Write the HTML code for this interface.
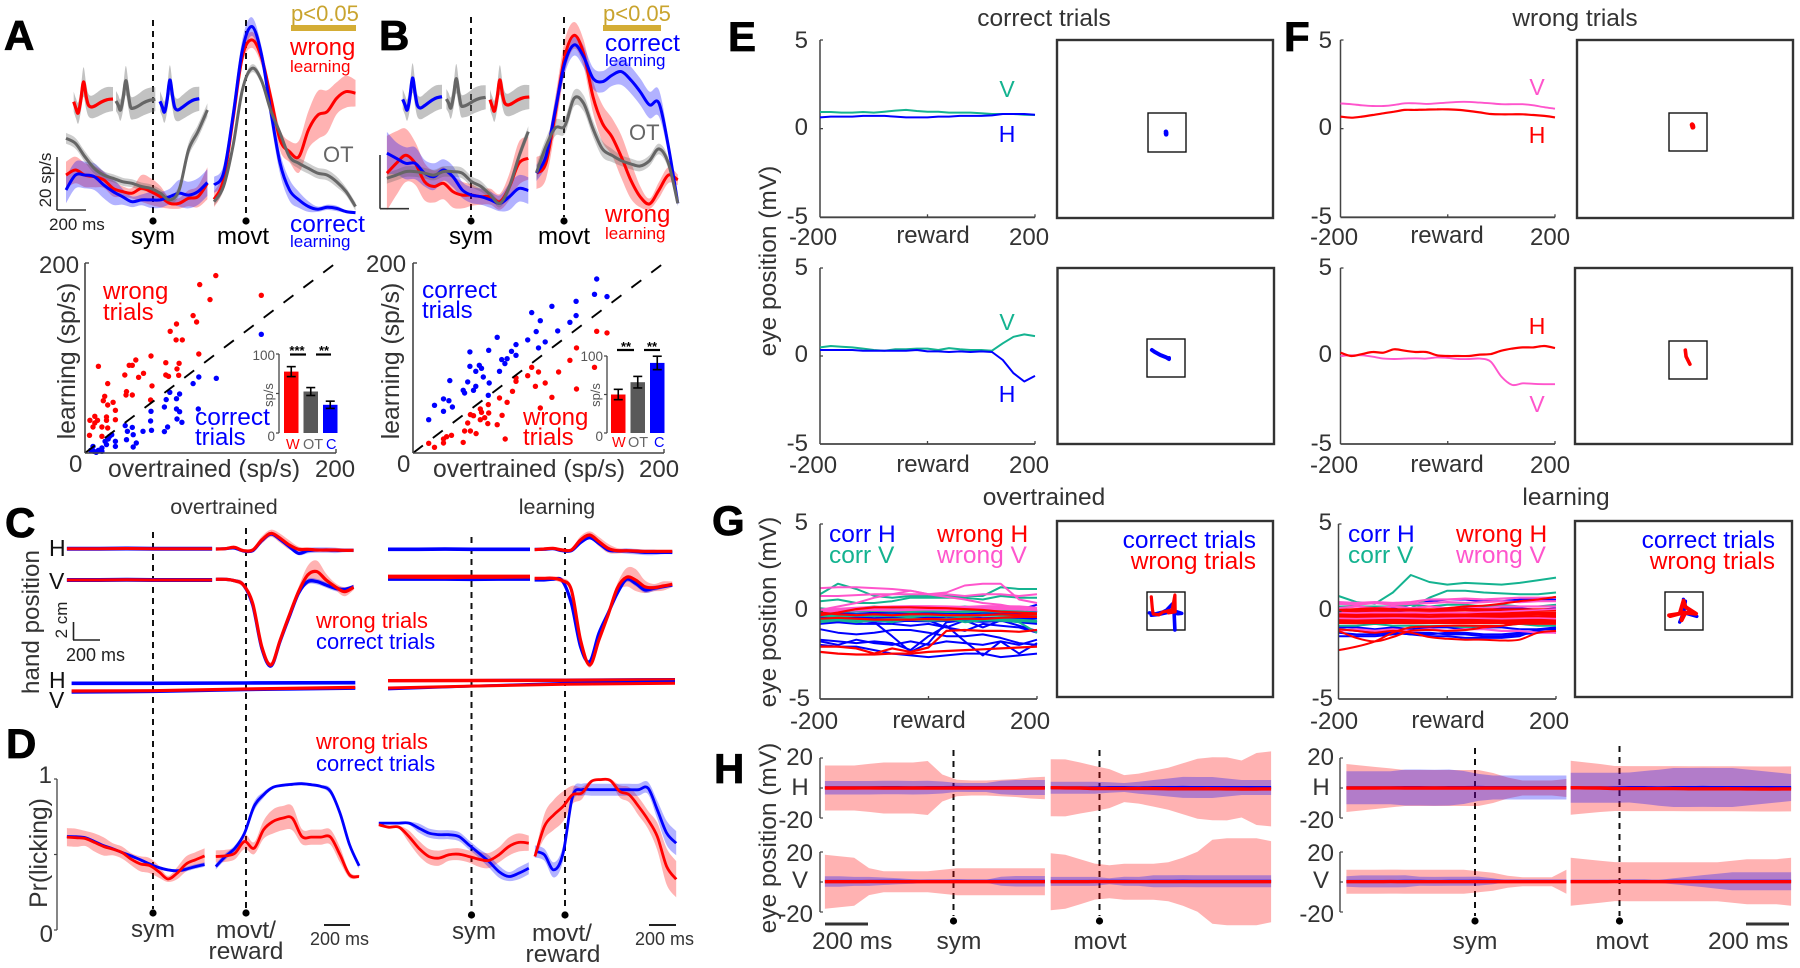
<!DOCTYPE html>
<html lang="en">
<head>
<meta charset="utf-8">
<title>Neural activity, hand and eye position during learning</title>
<style>
html,body{margin:0;padding:0;background:#fff;}
svg{display:block;font-family:"Liberation Sans",sans-serif;}
</style>
</head>
<body>
<svg id="figure" xmlns="http://www.w3.org/2000/svg" width="1800" height="968" viewBox="0 0 1800 968">
<rect x="0" y="0" width="1800" height="968" fill="#fff"/>
<g id="marks"></g>
<g id="labels">
<g font-weight="bold" font-size="42" fill="#000" stroke="#000" stroke-width=".8">
<text x="4" y="50">A</text>
<text x="379" y="50">B</text>
<text x="5" y="537">C</text>
<text x="6" y="758">D</text>
<text x="728" y="51">E</text>
<text x="1284" y="51">F</text>
<text x="712" y="535">G</text>
<text x="714" y="783">H</text>
</g>
<!-- Panel A labels -->
<text x="291" y="21" font-size="22" fill="#c9a42e">p&lt;0.05</text>
<text x="290" y="55" font-size="24" fill="#f00">wrong</text>
<text x="290" y="72" font-size="17" fill="#f00">learning</text>
<text x="323" y="162" font-size="22" fill="#666">OT</text>
<text x="290" y="232" font-size="24.5" fill="#00f">correct</text>
<text x="290" y="247" font-size="17" fill="#00f">learning</text>
<text x="153" y="244" font-size="24" text-anchor="middle">sym</text>
<text x="217" y="244" font-size="24">movt</text>
<text x="49" y="230" font-size="17" fill="#222">200 ms</text>
<text transform="translate(51,180) rotate(-90)" font-size="17" fill="#222" text-anchor="middle">20 sp/s</text>
<text x="39" y="273" font-size="24" fill="#333">200</text>
<text x="69" y="472" font-size="24" fill="#333">0</text>
<text x="315" y="477" font-size="24" fill="#333">200</text>
<text x="108" y="477" font-size="24.7" fill="#333">overtrained (sp/s)</text>
<text transform="translate(75,361) rotate(-90)" font-size="24.7" fill="#333" text-anchor="middle">learning (sp/s)</text>
<text x="103" y="299" font-size="24" fill="#f00">wrong</text>
<text x="103" y="320" font-size="24" fill="#f00">trials</text>
<text x="195" y="425" font-size="24.5" fill="#00f">correct</text>
<text x="195" y="445" font-size="24" fill="#00f">trials</text>
<text x="275" y="360" font-size="13.5" fill="#555" text-anchor="end">100</text>
<text x="275" y="441" font-size="13.5" fill="#555" text-anchor="end">0</text>
<text transform="translate(273,395) rotate(-90)" font-size="13" fill="#555" text-anchor="middle">sp/s</text>
<text x="286" y="449" font-size="14.5" fill="#f00">W</text>
<text x="303" y="449" font-size="14.5" fill="#666">OT</text>
<text x="326" y="449" font-size="14.5" fill="#00f">C</text>
<text x="297" y="355" font-size="13" font-weight="bold" text-anchor="middle">***</text>
<text x="324" y="355" font-size="13" font-weight="bold" text-anchor="middle">**</text>
<!-- Panel B labels -->
<text x="603" y="21" font-size="22" fill="#c9a42e">p&lt;0.05</text>
<text x="605" y="51" font-size="24.5" fill="#00f">correct</text>
<text x="605" y="66" font-size="17" fill="#00f">learning</text>
<text x="629" y="140" font-size="22" fill="#666">OT</text>
<text x="605" y="222" font-size="24" fill="#f00">wrong</text>
<text x="605" y="239" font-size="17" fill="#f00">learning</text>
<text x="471" y="244" font-size="24" text-anchor="middle">sym</text>
<text x="538" y="244" font-size="24">movt</text>
<text x="366" y="272" font-size="24" fill="#333">200</text>
<text x="397" y="472" font-size="24" fill="#333">0</text>
<text x="639" y="477" font-size="24" fill="#333">200</text>
<text x="433" y="477" font-size="24.7" fill="#333">overtrained (sp/s)</text>
<text transform="translate(399,361) rotate(-90)" font-size="24.7" fill="#333" text-anchor="middle">learning (sp/s)</text>
<text x="422" y="298" font-size="24.5" fill="#00f">correct</text>
<text x="422" y="318" font-size="24" fill="#00f">trials</text>
<text x="523" y="425" font-size="24" fill="#f00">wrong</text>
<text x="523" y="445" font-size="24" fill="#f00">trials</text>
<text x="603" y="361" font-size="13.5" fill="#555" text-anchor="end">100</text>
<text x="603" y="441" font-size="13.5" fill="#555" text-anchor="end">0</text>
<text transform="translate(600,395) rotate(-90)" font-size="13" fill="#555" text-anchor="middle">sp/s</text>
<text x="612" y="447" font-size="14.5" fill="#f00">W</text>
<text x="628" y="447" font-size="14.5" fill="#666">OT</text>
<text x="654" y="447" font-size="14.5" fill="#00f">C</text>
<text x="626" y="351" font-size="13" font-weight="bold" text-anchor="middle">**</text>
<text x="652" y="351" font-size="13" font-weight="bold" text-anchor="middle">**</text>
<!-- Panel C labels -->
<text x="224" y="514" font-size="21.5" fill="#333" text-anchor="middle">overtrained</text>
<text x="557" y="514" font-size="21.5" fill="#333" text-anchor="middle">learning</text>
<text x="49" y="556" font-size="23" fill="#111">H</text>
<text x="49" y="589" font-size="23" fill="#111">V</text>
<text x="49" y="688" font-size="23" fill="#111">H</text>
<text x="49" y="708" font-size="23" fill="#111">V</text>
<text transform="translate(39,622) rotate(-90)" font-size="24.2" fill="#333" text-anchor="middle">hand position</text>
<text transform="translate(67,620) rotate(-90)" font-size="17" fill="#222" text-anchor="middle">2 cm</text>
<text x="66" y="661" font-size="18" fill="#222">200 ms</text>
<text x="316" y="628" font-size="21.9" fill="#f00">wrong trials</text>
<text x="316" y="649" font-size="21.9" fill="#00f">correct trials</text>
<!-- Panel D labels -->
<text x="316" y="749" font-size="21.9" fill="#f00">wrong trials</text>
<text x="316" y="771" font-size="21.9" fill="#00f">correct trials</text>
<text x="52" y="783" font-size="24" fill="#333" text-anchor="end">1</text>
<text x="53" y="942" font-size="24" fill="#333" text-anchor="end">0</text>
<text transform="translate(47,853) rotate(-90)" font-size="24.7" fill="#333" text-anchor="middle">Pr(licking)</text>
<text x="153" y="937" font-size="24" fill="#333" text-anchor="middle">sym</text>
<text x="246" y="938" font-size="24.5" fill="#333" text-anchor="middle">movt/</text>
<text x="246" y="959" font-size="24.5" fill="#333" text-anchor="middle">reward</text>
<text x="474" y="939" font-size="24" fill="#333" text-anchor="middle">sym</text>
<text x="562" y="941" font-size="24.5" fill="#333" text-anchor="middle">movt/</text>
<text x="563" y="962" font-size="24.5" fill="#333" text-anchor="middle">reward</text>
<text x="310" y="945" font-size="18" fill="#333">200 ms</text>
<text x="635" y="945" font-size="18" fill="#333">200 ms</text>
<!-- Panels E F labels -->
<text x="1044" y="26" font-size="24.5" fill="#333" text-anchor="middle">correct trials</text>
<text x="1575" y="26" font-size="24.5" fill="#333" text-anchor="middle">wrong trials</text>
<text transform="translate(776,261) rotate(-90)" font-size="24.5" fill="#333" text-anchor="middle">eye position (mV)</text>
<text transform="translate(776,612) rotate(-90)" font-size="24.5" fill="#333" text-anchor="middle">eye position (mV)</text>
<text transform="translate(776,838) rotate(-90)" font-size="24.5" fill="#333" text-anchor="middle">eye position (mV)</text>
<g font-size="24" fill="#333">
<text x="808" y="48" text-anchor="end">5</text>
<text x="808" y="135" text-anchor="end">0</text>
<text x="808" y="224" text-anchor="end">-5</text>
<text x="789" y="245">-200</text>
<text x="933" y="243" text-anchor="middle">reward</text>
<text x="1009" y="245">200</text>
<text x="808" y="275" text-anchor="end">5</text>
<text x="808" y="362" text-anchor="end">0</text>
<text x="808" y="451" text-anchor="end">-5</text>
<text x="789" y="473">-200</text>
<text x="933" y="472" text-anchor="middle">reward</text>
<text x="1009" y="473">200</text>
<text x="1332" y="48" text-anchor="end">5</text>
<text x="1332" y="135" text-anchor="end">0</text>
<text x="1332" y="224" text-anchor="end">-5</text>
<text x="1310" y="245">-200</text>
<text x="1447" y="243" text-anchor="middle">reward</text>
<text x="1530" y="245">200</text>
<text x="1332" y="275" text-anchor="end">5</text>
<text x="1332" y="362" text-anchor="end">0</text>
<text x="1332" y="451" text-anchor="end">-5</text>
<text x="1310" y="473">-200</text>
<text x="1447" y="472" text-anchor="middle">reward</text>
<text x="1530" y="473">200</text>
<!-- G -->
<text x="808" y="530" text-anchor="end">5</text>
<text x="808" y="617" text-anchor="end">0</text>
<text x="810" y="706" text-anchor="end">-5</text>
<text x="790" y="729">-200</text>
<text x="929" y="728" text-anchor="middle">reward</text>
<text x="1010" y="729">200</text>
<text x="1332" y="530" text-anchor="end">5</text>
<text x="1332" y="617" text-anchor="end">0</text>
<text x="1333" y="706" text-anchor="end">-5</text>
<text x="1310" y="729">-200</text>
<text x="1448" y="728" text-anchor="middle">reward</text>
<text x="1529" y="729">200</text>
<!-- H -->
<text x="813" y="765" text-anchor="end">20</text>
<text x="800" y="795" text-anchor="middle">H</text>
<text x="813" y="828" text-anchor="end">-20</text>
<text x="813" y="861" text-anchor="end">20</text>
<text x="800" y="888" text-anchor="middle">V</text>
<text x="813" y="922" text-anchor="end">-20</text>
<text x="1334" y="765" text-anchor="end">20</text>
<text x="1321" y="795" text-anchor="middle">H</text>
<text x="1334" y="828" text-anchor="end">-20</text>
<text x="1334" y="861" text-anchor="end">20</text>
<text x="1321" y="888" text-anchor="middle">V</text>
<text x="1334" y="922" text-anchor="end">-20</text>
</g>
<g font-size="23">
<text x="1007" y="97" fill="#14b390" text-anchor="middle">V</text>
<text x="1007" y="142" fill="#00f" text-anchor="middle">H</text>
<text x="1007" y="330" fill="#14b390" text-anchor="middle">V</text>
<text x="1007" y="402" fill="#00f" text-anchor="middle">H</text>
<text x="1537" y="95" fill="#ff55cc" text-anchor="middle">V</text>
<text x="1537" y="143" fill="#f00" text-anchor="middle">H</text>
<text x="1537" y="334" fill="#f00" text-anchor="middle">H</text>
<text x="1537" y="412" fill="#ff55cc" text-anchor="middle">V</text>
</g>
<g font-size="24.5">
<text x="829" y="542" fill="#00f">corr H</text>
<text x="829" y="563" fill="#14b390">corr V</text>
<text x="937" y="542" fill="#f00">wrong H</text>
<text x="937" y="563" fill="#ff55cc">wrong V</text>
<text x="1256" y="548" fill="#00f" text-anchor="end">correct trials</text>
<text x="1256" y="569" fill="#f00" text-anchor="end">wrong trials</text>
<text x="1348" y="542" fill="#00f">corr H</text>
<text x="1348" y="563" fill="#14b390">corr V</text>
<text x="1456" y="542" fill="#f00">wrong H</text>
<text x="1456" y="563" fill="#ff55cc">wrong V</text>
<text x="1775" y="548" fill="#00f" text-anchor="end">correct trials</text>
<text x="1775" y="569" fill="#f00" text-anchor="end">wrong trials</text>
<text x="1044" y="505" fill="#333" text-anchor="middle">overtrained</text>
<text x="1566" y="505" fill="#333" text-anchor="middle">learning</text>
<text x="812" y="949" fill="#333">200 ms</text>
<text x="959" y="949" fill="#333" text-anchor="middle">sym</text>
<text x="1100" y="949" fill="#333" text-anchor="middle">movt</text>
<text x="1475" y="949" fill="#333" text-anchor="middle">sym</text>
<text x="1622" y="949" fill="#333" text-anchor="middle">movt</text>
<text x="1708" y="949" fill="#333">200 ms</text>
</g>
</g>
</svg>
<script>
/* ---------- PANEL A/B: firing rate (sp/s) ---------- */
const timeSymA=[-600,-535,-470,-405,-340,-275,-210,-145,-80,-15,50,115,180,245,310,375];
const timeMovtA=[-220,-155,-90,-25,40,105,170,235,300,365,430,495,560,625,690,755];
const timeSymB=[-580,-515,-450,-385,-320,-255,-190,-125,-60,5,70,135,200,265,330,395];
const timeMovtB=[-190,-125,-60,5,70,135,200,265,330,395,460,525,590,655,720,785];

const aSymGray=[26.9,25,20,15.6,13.1,11.9,10.6,10,8.8,8.1,6.3,3.8,7.5,22.5,29.4,37.5];
const aSymRed=[13.1,15,13.1,12.5,11.3,8.1,6.9,6.3,8.1,6.9,5,2.5,2.5,4.4,5,10];
const aSymBlue=[7.5,13.1,13.1,12.5,9.4,6.9,5,3.1,3.8,3.8,3.8,5,6.3,5.6,6.9,10.3];
const aSymGrayErr=[2,2,2,2,1.5,1.5,1.5,1.5,1.5,1.5,1.5,1.5,2,2.5,2.5,2.5];
const aSymRedErr=[5,5,4.5,4,3,3,2,2,5,5,4,2,2,3,4,6];
const aSymBlueErr=[5,5,5,5,5,5,3,2,2,3,3,3,5,5,5,5];
const aMovtBlue=[9.4,13.8,35,60,68.8,58.8,37.5,17.5,7.5,3.8,1.3,.3,1,.6,-.6,-1];
const aMovtRed=[4,11.3,33.8,57.5,63.8,57.5,42.5,26.3,21.9,20,30,35.6,36.9,41.9,44.4,43.8];
const aMovtGray=[3.1,8.8,23.8,45,53.1,48.8,37.5,28.8,20,17.5,15.6,13.8,13.1,10.6,6.9,1.3];
const aMovtBlueErr=[3,3,4,4,3.5,3,4,4,4,3,2,1,1,1,.5,.5];
const aMovtRedErr=[3,3,4,3,3,3,3,4,4,6,7,9,8,6,6,5];
const aMovtGrayErr=[1.5,1.5,1.5,1.5,1.5,1.5,1.5,1.5,1.5,2,2,2,2,2,1.5,1.5];

const bSymBlue=[20.8,18.9,17,17,13.3,12,14.5,12,7,5.1,4.5,3.3,2,4.5,7.6,6.8];
const bSymRed=[13.3,17,20,17,10.1,8.3,9.5,6.4,5.1,5.1,4.5,4.5,2.6,8.2,17,18.9];
const bSymGray=[11.4,12.6,13.9,13.9,13.3,12.6,13.9,13.9,13.3,10.1,8.3,5.1,2,8.3,19.5,28.9];
const bSymRedErr=[14,12,10,8,7,6,6,6,5,4,3,3,3,5,8,8];
const bSymBlueErr=[8,6,6,6,5,5,4,4,3,3,3,3,3,5,5,5];
const bSymGrayErr=[2,2,2,2,2,2,2,2,2,2,2,1.5,1.5,2,2,2];
const bMovtBlue=[13.3,19.5,37,54.5,61.4,57,48.9,47.6,50,51.4,48.3,43.9,38.9,39.5,23.3,2];
const bMovtRed=[13.3,17,35.8,57,65,58.3,42,32,27,19.5,10.8,4.5,1.8,7,12.6,10.8];
const bMovtGray=[13.5,23.3,30.3,31,41.4,39.5,30,22.4,20,18,16.8,16,18,22.4,17,2];
const bMovtBlueErr=[3,3,4,4,4,4,4,4,4,5,5,5,5,5,3,1];
const bMovtRedErr=[6,6,6,6,5,5,6,7,7,8,7,4,2,3,3,2];
const bMovtGrayErr=[3,3,3,3,3,3,3,3,2.5,2,2,2,2,2,2,1];

const waveTime=[0,5,10,16,22,28,33,40,50,62,75,88];
const waveRed=[-5,-25,-39,0,54,10,-15,-21,-16,-6,1,3];
const waveGray=[-3,-15,-30,5,58,12,-22,-24,-18,-8,-1,2];
const waveBlue=[-4,-20,-36,0,60,12,-22,-30,-22,-10,0,4];
const waveErr=[30,30,32,36,44,38,34,34,36,38,38,36];

const scatterARedX=[104.2,91.4,99.6,140.5,86.1,88.9,72.9,67.9,72.6,77.5,90.7,52.6,40.5,35.2,37.7,10.7,64.4,75,73.3,31.7,46.6,42.7,64.4,66.5,74.7,18.1,53.4,33.1,32.7,37.7,15.7,14.6,52.3,22.4,18.1,24.2,7.8,3.9,10,17.1,17.1,24.2,7.8,6.4,13.5,18.1,3.6,13.5];
const scatterARedY=[186.7,177.3,161.5,166,144.6,137.9,135.8,128.1,119,119,104.2,102.1,97.9,92.3,92.3,91.3,95.1,94.4,88.5,82.1,83.9,79.7,82.1,80.7,81.8,73,70.6,64.6,61.1,61.1,59.7,55.1,55.8,53.4,50.5,44.9,38.6,34.4,34.4,37.9,34.4,35.1,31.6,27.4,27.4,26.3,18.6,17.6];
const scatterABlueX=[140.5,90.7,104.6,86.1,67.6,75.4,72.9,64.7,52.6,63.3,72.9,75.4,90.3,52.3,73.3,77.2,32,37.7,65.8,63.3,53,46.2,33.8,38.4,33.1,40.9,38.4,24.2,24.2,21.3,18.5,16,13.5,6.4,10.7,7.1,13.5,17.1,19.6,4.6,8.9];
const scatterABlueY=[125,80,78.6,73,63.9,62.1,57.2,56.2,43.9,48.4,46.3,43.5,46.3,33.7,35.8,32.3,28.8,27,27.4,22.5,23.9,22.8,22.8,19.3,14,10.5,6.3,12.3,7,19.3,14.7,12.3,5.3,7,2.8,1.8,1.8,8.8,17.6,2.8,.7];
const scatterBRedX=[12.5,17.1,24.3,26.8,30.7,24.3,40,73.5,41.1,45.7,50.3,43.6,45.7,48.2,53.6,57.1,54.6,60.3,53.6,60,59.6,67.1,71,75,68.9,79.3,82.1,82.1,91.4,94.6,100,97.5,105.3,110.7,116,125,130.3,130.3,144.6,146.4,154.6,101.4];
const scatterBRedY=[10.2,6,14.7,17.2,18.6,10.5,11.2,14.7,23.2,23.2,20.4,31.6,40.4,39.3,35.1,37.2,42.8,42.1,46.3,50.9,30.9,29.8,39.7,53.4,57.9,64.9,75.5,79,81.4,90.2,85.3,70.2,73.7,58.6,85.3,97.6,110.6,67.4,90.2,128.1,126.4,47.4];
const scatterBBlueX=[146.4,144.6,154.6,130,110.7,94.6,101.4,125,130,115.3,98.2,91.4,105.3,100,67.1,82.1,78.5,82.1,45.3,60.3,75,70.7,73.2,68.9,52.8,54.6,45.3,50,56,43.6,29.3,60.7,50,48.2,40,41.1,60,24.3,28.6,17.1,31.4,24.3,12.5];
const scatterBBlueY=[183.2,167.1,164.6,159.7,154.4,147.8,139.3,137.6,144.6,128.5,127.8,119,116.9,110.6,121.8,114.1,107.1,102.8,106.4,108.1,99.3,98.3,94.1,86,92.3,89.2,91.3,86,80,74.8,76.2,73.7,70.2,66,66,63.2,60.7,56.9,55.1,50.2,48.4,43.9,35.1];
const barCategories=['W','OT','C'];
const barsA=[77.7,52.5,35.7];
const barsAErr=[6.3,5,4.6];
const barsB=[50,66,91];
const barsBErr=[6.7,7.5,8.7];

/* ---------- PANEL C: hand position (cm) ---------- */
const timeCSymOver=[-647,-400,-200,0,200,444];
const timeCSymLearn=[-628,-400,-200,0,200,440];
const timeCMovt=[-226,-157,-88,-19,50,119,188,257,326,395,464,533,602,671,740,809];
const timeCLongOver=[-612,0,700,1521];
const timeCLongLearn=[-628,0,700,1530];
const cOverSymH=[0,0,.02,0,0,0];
const cOverSymV=[-.07,-.07,-.05,-.07,-.07,-.07];
const cLearnSymHBlue=[0,0,.02,0,0,0];
const cLearnSymVRed=[.25,.25,.25,.25,.25,.25];
const cLearnSymVRed2=[.08,.05,.03,.05,.05,.08];
const cLearnSymVBlue=[-.11,-.11,-.11,-.13,-.11,-.11];
const cOverHRed=[-.04,0,.15,-.22,-.15,.95,1.67,1.13,.4,-.07,-.07,-.15,-.15,-.15,-.18,-.18];
const cOverHBlue=[-.04,0,.07,-.25,-.22,.87,1.6,1,.22,-.51,-.22,-.15,-.15,-.18,-.18,-.18];
const cOverVRed=[0,0,-.15,-.62,-2.62,-7.35,-9.35,-6.62,-3.89,-1.35,.47,.84,-.07,-.8,-1.35,-.87];
const cOverVBlue=[0,0,-.15,-.62,-2.8,-7.53,-9.45,-6.73,-4.07,-1.53,-.25,-.25,-.62,-.98,-1.09,-.8];
const cLearnHRed=[-.04,.04,.11,-.07,-.07,1.02,1.56,.84,.11,-.15,-.15,-.18,-.22,-.22,-.22,-.22];
const cLearnHBlue=[0,0,.07,-.15,-.15,.73,1.27,.65,-.07,-.18,-.18,-.25,-.33,-.33,-.33,-.33];
const cLearnVRed=[0,0,0,-.25,-1.27,-6.73,-9.45,-6.73,-4,-1.09,.11,-.18,-.91,-1.02,-.84,-.65];
const cLearnVBlue=[-.18,-.18,-.11,-.25,-2.73,-7.45,-9.09,-6,-3.82,-1.64,-.11,-.55,-1.27,-1.09,-.91,-.73];
const handErrH=[.03,.05,.1,.2,.2,.4,.4,.5,.5,.3,.2,.15,.1,.1,.1,.1];
const handErrV=[.1,.1,.2,.3,.3,.3,.3,.3,.4,.5,1,1.2,.7,.4,.5,.3];
const handErrBlue=[.05,.05,.1,.1,.15,.2,.2,.2,.2,.2,.3,.3,.3,.3,.2,.2];
const cLowOverHBlue=[0,0,.04,.07];
const cLowOverVRed=[-.84,-.8,-.62,-.44];
const cLowOverVBlue=[-.98,-.9,-.7,-.55];
const cLowLearnHRed=[.29,.31,.33,.36];
const cLowLearnHBlue=[.3,.31,.36,.42];
const cLowLearnVBlue=[-.62,-.3,0,.18];
const cLowLearnVRed=[-.51,-.3,-.1,0];

/* ---------- PANEL D: probability of licking ---------- */
const timeDSymOver=[-647,-578,-509,-440,-371,-302,-233,-164,-95,-26,43,112,181,250,319,388];
const timeDMovtOver=[-227,-155,-83,-11,61,132,204,276,348,420,491,563,635,707,779,850];
const timeDSymLearn=[-697,-622,-546,-471,-396,-321,-245,-170,-95,-20,55,130,206,281,356,431];
const timeDMovtLearn=[-226,-155,-84,-14,57,128,199,270,340,411,482,553,624,694,765,836];
const dSymOverBlue=[.619,.617,.611,.586,.558,.538,.513,.491,.465,.438,.414,.398,.392,.403,.42,.434];
const dSymOverRed=[.615,.611,.606,.58,.553,.535,.513,.469,.438,.427,.387,.338,.376,.438,.465,.491];
const dSymOverRedErr=[.06,.06,.05,.06,.06,.04,.04,.04,.05,.05,.04,.02,.04,.05,.05,.05];
const dSymOverBlueErr=[.01,.01,.01,.01,.01,.01,.01,.01,.01,.01,.01,.01,.01,.015,.015,.015];
const dMovtOverBlue=[.42,.487,.542,.641,.819,.896,.945,.958,.965,.969,.962,.951,.918,.774,.564,.425];
const dMovtOverRed=[.487,.491,.509,.586,.542,.664,.719,.741,.741,.619,.615,.615,.615,.498,.365,.354];
const dMovtOverRedErr=[.04,.04,.04,.05,.04,.06,.08,.08,.08,.05,.05,.05,.05,.05,.02,.01];
const dMovtOverBlueErr=[.02,.02,.02,.02,.03,.02,.01,.01,.01,.01,.01,.01,.02,.02,.02,.02];
const dSymLearnBlue=[.708,.708,.708,.708,.675,.642,.631,.631,.619,.564,.509,.454,.387,.354,.376,.409];
const dSymLearnRed=[.697,.681,.681,.619,.542,.487,.476,.498,.502,.487,.469,.46,.498,.553,.58,.575];
const dSymLearnBlueErr=[.005,.005,.005,.01,.03,.03,.03,.03,.03,.03,.03,.04,.04,.03,.04,.04];
const dSymLearnRedErr=[.005,.01,.01,.04,.05,.05,.05,.04,.04,.04,.05,.05,.05,.06,.06,.05];
const dMovtLearnBlue=[.52,.498,.398,.509,.885,.929,.929,.929,.929,.929,.929,.929,.94,.796,.642,.575];
const dMovtLearnRed=[.487,.686,.763,.819,.896,.907,.985,.996,.991,.918,.896,.819,.73,.619,.42,.336];
const dMovtLearnRedErr=[.01,.08,.1,.1,.06,.04,.01,.01,.01,.04,.05,.06,.06,.09,.12,.12];
const dMovtLearnBlueErr=[.04,.04,.05,.05,.04,.04,.04,.04,.04,.04,.04,.04,.04,.06,.08,.08];

/* ---------- PANELS E/F: eye position (mV) ---------- */
const eyeTime21=[-200,-180,-160,-140,-120,-100,-80,-60,-40,-20,0,20,40,60,80,100,120,140,160,180,200];
const e1V=[.94,.94,.91,.91,.94,.91,.96,1.02,1.06,1,.96,.96,.91,.91,.91,.87,.83,.83,.83,.79,.77];
const e1H=[.64,.68,.68,.68,.72,.72,.72,.68,.64,.64,.64,.68,.68,.72,.72,.72,.75,.83,.83,.83,.79];
const e2V=[.49,.57,.53,.49,.42,.34,.3,.38,.38,.42,.42,.34,.45,.38,.34,.34,.3,.72,1.09,1.23,1.13];
const e2H=[.34,.34,.34,.34,.3,.3,.3,.3,.3,.34,.26,.26,.23,.26,.23,.26,.23,-.23,-.98,-1.45,-1.13];
const f1V=[1.42,1.38,1.32,1.28,1.28,1.34,1.43,1.43,1.4,1.43,1.47,1.51,1.51,1.47,1.43,1.38,1.38,1.38,1.32,1.21,1.13];
const f1H=[.68,.62,.68,.77,.87,.96,1.06,1.06,1.08,1.09,1.09,1.06,1,.92,.83,.81,.81,.81,.77,.72,.64];
const f2V=[0,.04,.04,-.04,-.15,-.17,-.15,-.13,-.15,-.08,-.11,-.17,-.17,-.15,-.32,-1.17,-1.64,-1.55,-1.58,-1.6,-1.6];
const f2H=[.19,0,.11,.23,.19,.38,.3,.23,.23,.04,0,0,0,.08,.11,.3,.42,.49,.49,.57,.45];
const trajE1X=[-.3,-.2,-.2,-.3];
const trajE1Y=[.2,0,-.5,-.2];
const trajE2X=[-3.7,-3,-1.5,0,.8,.8];
const trajE2Y=[2.1,1.6,.8,.2,-.3,0];
const trajF1X=[1.2,1.3,1.1,1.2];
const trajF1Y=[1.7,1.3,1.9,1.6];
const trajF2X=[-.7,-.5,.5];
const trajF2Y=[2.6,.9,-1.1];

/* ---------- PANEL G: eye position per session (mV) ---------- */
const eyeTime13=[-200,-167,-133,-100,-67,-33,0,33,67,100,133,167,200];
const gOverBlue=[
[-1.7,-1.9,-1.6,-1.8,-1.9,-1.7,-1.9,-1.7,-1.8,-1.9,-1.7,-1.9,-1.6],
[-1.0,-1.2,-1.3,-1.2,-1.05,-1.05,-1.2,-1.4,-1.4,-1.3,-1.5,-1.8,-1.9],
[-1.9,-2,-2,-2.2,-2.4,-2.5,-2.6,-2.5,-2.4,-2.4,-2.6,-2.5,-2.4],
[-.5,-.4,-.5,-.6,-1.4,-2.3,-1.8,-.6,-.5,-.5,-.4,-.6,-.7],
[-.5,-.5,-.6,-.5,-.6,-.5,-.5,-.9,-.5,-.9,-.5,-.8,-1.1],
[-1.6,-1.7,-1.8,-1.7,-1.8,-2.2,-1.4,-.8,-1.7,-2.5,-1.7,-2.4,-1.8],
[-.4,-.4,-.3,-.4,-.4,-.4,-.3,-.4,-.4,-.5,-.5,-.4,-.6],
[-.1,-.1,-.2,-.1,0,-.1,0,-.1,-.1,0,0,.1,.4],
[-.7,-.6,-.7,-.7,-.7,-.8,-.7,-.9,-1.1,-.7,-.8,-.9,-1.2]];
const gOverTeal=[
[1,1.6,1.3,.9,.8,.9,.9,.9,.9,.9,1.4,1.3,1.3],
[.6,.7,.5,.5,.6,.8,.8,.8,.8,.7,.9,.8,.8],
[.2,.1,.2,.3,.2,.3,.2,.2,.3,.2,.2,.2,.1],
[-.6,-.5,-.6,-.5,-.6,-.4,-.5,-.4,-.6,-.5,-.5,-.6,-1.2]];
const gOverMagenta=[
[1.35,1.4,1.4,1.35,1.3,1.2,1,.85,.7,.5,.4,.2,.1],
[.1,.3,.5,.8,1,1.2,1,1.1,1.5,1.6,1.6,.7,.5],
[.9,.9,.95,1,1,1,1,1,.9,1,1,.9,1]];
const gOverDenseBlue=[
[-.35,-.4,-.35,-.4,-.35,-.38,-.35,-.4,-.35,-.4,-.38,-.4,-.35],
[-.5,-.52,-.5,-.55,-.5,-.5,-.52,-.5,-.5,-.55,-.5,-.55,-.6],
[-.1,-.12,-.15,-.1,-.1,-.15,-.1,-.12,-.1,-.1,-.1,-.12,.1]];
const gOverDenseTeal=[
[-.2,-.25,-.2,-.22,-.2,-.25,-.2,-.22,-.25,-.2,-.2,-.25,-.2],
[-.45,-.42,-.45,-.48,-.45,-.42,-.48,-.45,-.42,-.45,-.48,-.5,-.55],
[.05,.02,.05,.08,.05,.02,.05,.02,0,.05,.02,0,-.1]];
const gOverDenseMagenta=[
[.1,.15,.2,.25,.28,.3,.3,.28,.25,.3,.3,.28,.2],
[.02,.05,.1,.12,.1,.12,.15,.12,.15,.15,.18,.15,.1]];
const gOverRed=[
[-2.3,-2.4,-2.45,-2.45,-2.4,-2.4,-2.3,-2.25,-2.2,-2.15,-2.1,-2.05,-2],
[-2,-2,-2.1,-2.4,-2.1,-2.3,-2.05,-1.1,-1.05,-1.1,-1.1,-1.15,-1.05],
[-.2,-.05,.15,.25,.25,.25,.22,.2,.15,.1,0,-.05,-.1],
[-.4,-.35,-.4,-.45,-.45,-.45,-.42,-.45,-.4,-.42,-.35,-.3,-.3],
[-.05,-.15,-.2,-.15,-.2,-.15,-.15,-.2,-.2,-.2,-.15,-.2,-.15]];
const gLearnTeal=[
[.9,.55,.45,1.1,2.1,1.7,1.55,1.65,1.6,1.55,1.65,1.8,1.95],
[-.1,0,0,0,.2,.8,1.2,1.2,1.1,1.05,1,1,1.1],
[.3,.3,.3,.3,.4,.3,.4,.4,.3,.4,.3,.3,.4],
[-.3,-.3,-.2,-.3,-.3,-.3,-.2,-.3,-.3,-.3,-.3,-.3,-.3],
[-.8,-.8,-.7,-.8,-.8,-.8,-.8,-.9,-.8,-.8,-.7,-.8,-.8]];
const gLearnMagenta=[
[.55,.5,.55,.5,.55,.7,.7,.75,.7,.75,.8,.8,.8],
[.45,.4,.5,.4,.45,.5,.55,.5,.55,.6,.55,.6,.6],
[.2,.3,.2,.3,.2,.3,.2,.3,.2,.3,.3,.3,.3],
[-1.1,-1,-1.1,-1,-1.1,-1,-1.1,-1,-1,-1.1,-1.1,-1.2,-1.2]];
const gLearnBlue=[
[-1.4,-1.4,-1.4,-1.3,-1.2,-1.2,-1.3,-1.3,-1.4,-1.4,-1.3,-1.2,-1.1],
[-1,-1.1,-1.2,-1.2,-1.3,-1.4,-1.4,-1.5,-1.5,-1.5,-1.4,-1,-1],
[.1,.1,.2,.2,.4,.6,.7,.7,.6,.6,.7,.7,.7],
[0,0,.1,0,.1,.1,.2,.2,.1,.2,.2,.1,.2],
[-.9,-.9,-1,-.9,-1,-.9,-.9,-1,-.9,-.9,-1,-1,-.9],
[-1.2,-1.3,-1.3,-1.2,-1.3,-1.3,-1.2,-1.2,-1.3,-1.3,-1.2,-1.1,-1.2]];
const gLearnRedThin=[
[-2.2,-2,-1.7,-1.2,-.9,-.85,-.8,-.8,-.8,-.8,-.7,-.7,-.7],
[-1.1,-1.5,-1.7,-1.45,-1.1,-1.05,-1.1,-1.05,-.9,-.8,-.6,-.5,-.4],
[-1,-1.1,-1.2,-1.1,-1.2,-1.45,-1.55,-1.6,-1.6,-1.65,-1.6,-1.2,-1.1],
[.1,.15,.2,.15,.1,.1,.2,.3,.35,.45,.6,.7,.85]];
const gLearnRedThick=[
[.05,.1,.08,.1,.1,.1,.1,.12,.1,.1,.1,.1,.1],
[-.12,-.1,-.12,-.1,-.12,-.1,-.1,-.12,-.1,-.12,-.1,-.1,-.12],
[-.3,-.28,-.3,-.28,-.28,-.3,-.28,-.3,-.28,-.3,-.28,-.3,-.28],
[-.46,-.44,-.46,-.45,-.46,-.44,-.46,-.46,-.44,-.46,-.46,-.44,-.46],
[-.6,-.62,-.6,-.6,-.62,-.6,-.6,-.62,-.6,-.6,-.62,-.6,-.6]];
const gLearnDenseMagenta=[
[-.05,-.08,-.05,-.06,-.05,-.08,-.05,-.06,-.02,0,.05,.1,.15],
[-.38,-.4,-.38,-.36,-.38,-.4,-.38,-.36,-.38,-.4,-.38,-.36,-.4]];
const trajG1BlueX=[-4.5,-3,-1,0,1.5,2,2.2,2,3,4,2,-2,-4];
const trajG1BlueY=[-.5,-.8,-.3,.2,1.8,-.3,-5,-.5,-.7,-.6,0,-.9,-1.1];
const trajG1RedX=[-4,-3.7,-3.5,-2,-1,1.5,2.2,2.3,.5];
const trajG1RedY=[3.7,.5,-.8,-1,-.3,.3,4.2,-.2,-.5];
const trajG2BlueX=[0,.5,2,3.5,0,-1,0,.5];
const trajG2BlueY=[3,1.2,-.5,-1.5,-.5,-3,-1,2.5];
const trajG2RedX=[-3.8,-1,0,.5,3.3,.5,-.5,0,-3.5];
const trajG2RedY=[-1.2,-.8,2.6,1,-.8,-.5,-2.5,-.5,-1.4];

/* ---------- PANEL H: eye position mean and spread (mV) ---------- */
const timeHSym=[-598,-530,-462,-393,-325,-257,-189,-120,-52,16,84,152,221,289,357,425];
const timeHMovt=[-227,-159,-90,-22,46,115,183,251,320,388,456,525,593,661,730,798];
const hMeanRed=[0,0,0,.1,0,0,0,0,0,0,0,0,0,0,0,0];
const hMeanBlue=[.2,.2,.2,.2,.3,.3,.2,.3,.3,.4,.3,.3,.3,.3,.3,.3];
const hMeanRedMovt=[.2,.1,0,-.3,-.4,-.4,-.4,-.4,-.5,-.5,-.5,-.5,-.6,-.7,-.7,-.6];
const hOverHSymRed=[15,15,15,16,17,17,17,18,9,5.5,5,5,5.5,6,7,7.5];
const hOverHSymBlue=[4.5,4.5,4.5,4.5,4.5,4.5,4.5,4.5,4,3,3,3,4.5,5,5,5];
const hOverHMovtRed=[19,19,17,15,13,9,10,12,14,17,20,21,21,19,24,25];
const hOverHMovtBlue=[4,4,4,4,3.5,3,4,5,6,7,7,7,6,5,5,5];
const hOverVSymRed=[18,17,16,9,7,7,7,7,8,9,9,9,9,9,9,9];
const hOverVSymBlue=[3.5,3.5,3,3,2.5,2,1.5,1,1,1,1,1,3,3.5,3.5,3.5];
const hOverVMovtRed=[19,18,15,12,11,12,12,12,13,16,20,28,29,29,29,27];
const hOverVMovtBlue=[3,3,3,3,2,3,3,4,4,4,4,4,4,4,4,4];
const hLearnHSymRed=[16,15,14,13,12,12,12,12,12,12,10,7,5,5,5,6];
const hLearnHSymBlue=[11,11,11,11,12,12,12,12,11,9,8,8,8,8,8,8];
const hLearnHMovtRed=[18,17,16,15,15,15,15,15,15,15,15,15,15,15,15,15];
const hLearnHMovtBlue=[10,10,10,10,10,11,12,13,13,13,13,13,12,11,10,9];
const hLearnVSymRed=[8,8,8,8,8,8,8,8,8,7,6,4,3,3,3,8];
const hLearnVSymBlue=[3.5,4,4,4,4,3,3,3,3,3,2,.5,.5,.5,.5,.5];
const hLearnVMovtRed=[16,15,14,13,13,13,13,13,13,13,13,14,15,15,15,16];
const hLearnVMovtBlue=[1,1,1,1,1,1,1,2,3,4,5,6,6,6,6,6];

/* ---------- drawing helpers ---------- */
const NS='http://www.w3.org/2000/svg';
const marks=document.getElementById('marks');
const RED='#ff0000',BLUE='#0000ff',GRAY='#666666',TEAL='#14b390',MAG='#ff55cc';
const RF='rgba(255,0,0,.3)',BF='rgba(0,0,255,.3)',GF='rgba(90,90,90,.3)';

function pathEl(d,stroke,width,fill,dash,name){
  const el=document.createElementNS(NS,'path');
  el.setAttribute('d',d);
  el.setAttribute('stroke',stroke);
  el.setAttribute('stroke-width',width);
  el.setAttribute('fill',fill);
  el.setAttribute('stroke-linejoin','round');
  if(dash)el.setAttribute('stroke-dasharray',dash);
  
  
  marks.appendChild(el);
  return el;
}
function spline(pts,first){
  let d=first?'M':'L';
  d+=pts[0][0].toFixed(1)+' '+pts[0][1].toFixed(1);
  for(let i=0;i<pts.length-1;i++){
    const p0=pts[Math.max(0,i-1)],p1=pts[i],p2=pts[i+1],p3=pts[Math.min(pts.length-1,i+2)];
    const c1x=p1[0]+(p2[0]-p0[0])/6,c1y=p1[1]+(p2[1]-p0[1])/6;
    const c2x=p2[0]-(p3[0]-p1[0])/6,c2y=p2[1]-(p3[1]-p1[1])/6;
    d+=' C'+c1x.toFixed(1)+' '+c1y.toFixed(1)+' '+c2x.toFixed(1)+' '+c2y.toFixed(1)+' '+p2[0].toFixed(1)+' '+p2[1].toFixed(1);
  }
  return d;
}
function polyline(pts){
  return pts.map((p,i)=>(i?'L':'M')+p[0].toFixed(1)+' '+p[1].toFixed(1)).join(' ');
}
function curve(ts,vs,xf,yf,color,w,name){
  pathEl(spline(ts.map((t,i)=>[xf(t),yf(vs[i])]),true),color,w,'none',null,name);
}
function jagged(ts,vs,xf,yf,color,w,name){
  pathEl(polyline(ts.map((t,i)=>[xf(t),yf(vs[i])])),color,w,'none',null,name);
}
function band(ts,vs,err,xf,yf,fill,name){
  const up=ts.map((t,i)=>[xf(t),yf(vs[i]+err[i])]);
  const lo=ts.map((t,i)=>[xf(t),yf(vs[i]-err[i])]).reverse();
  pathEl(spline(up,true)+' '+spline(lo,false)+' Z','none',0,fill,null,name);
}
function bandStraight(ts,vs,err,xf,yf,fill,name){
  const up=ts.map((t,i)=>[xf(t),yf(vs[i]+err[i])]);
  const lo=ts.map((t,i)=>[xf(t),yf(vs[i]-err[i])]).reverse();
  pathEl(polyline(up.concat(lo))+' Z','none',0,fill,null,name);
}
function rule(x1,y1,x2,y2,color,w,dash,name){
  pathEl('M'+x1+' '+y1+' L'+x2+' '+y2,color,w,'none',dash,name);
}
function dot(cx,cy,r,color,name){
  const el=document.createElementNS(NS,'circle');
  el.setAttribute('cx',cx.toFixed(1));
  el.setAttribute('cy',cy.toFixed(1));
  el.setAttribute('r',r);
  el.setAttribute('fill',color);
  
  
  marks.appendChild(el);
}
function rect(x,y,w,h,fill,stroke,sw,name){
  const el=document.createElementNS(NS,'rect');
  el.setAttribute('x',x.toFixed(1));
  el.setAttribute('y',y.toFixed(1));
  el.setAttribute('width',w.toFixed(1));
  el.setAttribute('height',h.toFixed(1));
  el.setAttribute('fill',fill);
  el.setAttribute('stroke',stroke);
  el.setAttribute('stroke-width',sw);
  
  
  marks.appendChild(el);
}
const linear=(d0,d1,r0,r1)=>v=>r0+(v-d0)/(d1-d0)*(r1-r0);
const timeAxis=(origin,pxPerMs)=>t=>origin+t*pxPerMs;
const baseAxis=(base,pxPerUnit)=>v=>base-v*pxPerUnit;

/* ---------- dashed event lines ---------- */
function eventLine(x,y0,y1,dotY,name){
  rule(x,y0,x,y1,'#111',2,'6 5',name+'-line');
  dot(x,dotY,3.6,'#000',name+'-dot');
}
eventLine(153,20,217,221,'a-sym-event');
eventLine(246,20,217,221,'a-movt-event');
eventLine(471,17,217,221,'b-sym-event');
eventLine(564,17,217,221,'b-movt-event');
eventLine(153,532,909,913,'cd-left-sym-event');
eventLine(246,528,909,913,'cd-left-movt-event');
eventLine(471.5,537,911,915,'cd-right-sym-event');
eventLine(565,537,911,915,'cd-right-movt-event');
eventLine(953.5,750,916,921,'h-left-sym-event');
eventLine(1099.5,750,916,921,'h-left-movt-event');
eventLine(1475,748,916,921,'h-right-sym-event');
eventLine(1619.5,746,916,921,'h-right-movt-event');

/* ---------- A & B rate curves ---------- */
function rateGroup(ts,xf,yf,r,rE,b,bE,g,gE,prefix){
  band(ts,r,rE,xf,yf,RF,prefix+'-wrong-band');
  band(ts,b,bE,xf,yf,BF,prefix+'-correct-band');
  band(ts,g,gE,xf,yf,GF,prefix+'-ot-band');
  curve(ts,r,xf,yf,RED,3,prefix+'-wrong-line');
  curve(ts,b,xf,yf,BLUE,3,prefix+'-correct-line');
  curve(ts,g,xf,yf,GRAY,3,prefix+'-ot-line');
}
function waveform(x0,yc,vals,color,prefix){
  const xf=t=>x0+t/2.24,yf=v=>yc-v/3;
  band(waveTime,vals,waveErr,xf,yf,'rgba(120,120,120,.45)',prefix+'-band');
  curve(waveTime,vals,xf,yf,color,3.2,prefix+'-line');
}
waveform(73.7,100,waveRed,RED,'a-wave-wrong');
waveform(116,100,waveGray,GRAY,'a-wave-ot');
waveform(160,100,waveBlue,BLUE,'a-wave-correct');
waveform(402.7,98,waveBlue,BLUE,'b-wave-correct');
waveform(446.4,98,waveGray,GRAY,'b-wave-ot');
waveform(490,98,waveRed,RED,'b-wave-wrong');
const yRateA=baseAxis(210,8/3),yRateB=baseAxis(208.67,8/3);
rateGroup(timeSymA,timeAxis(153,.145),yRateA,aSymRed,aSymRedErr,aSymBlue,aSymBlueErr,aSymGray,aSymGrayErr,'a-sym');
rateGroup(timeMovtA,timeAxis(246,.145),yRateA,aMovtRed,aMovtRedErr,aMovtBlue,aMovtBlueErr,aMovtGray,aMovtGrayErr,'a-movt');
rateGroup(timeSymB,timeAxis(471,.145),yRateB,bSymRed,bSymRedErr,bSymBlue,bSymBlueErr,bSymGray,bSymGrayErr,'b-sym');
rateGroup(timeMovtB,timeAxis(564,.145),yRateB,bMovtRed,bMovtRedErr,bMovtBlue,bMovtBlueErr,bMovtGray,bMovtGrayErr,'b-movt');
rule(57,157,57,210,'#333',1.6,null,'a-rate-scale-bar');
rule(57,210,86,210,'#333',1.6,null,'a-time-scale-bar');
rule(380,155,380,208.7,'#333',1.6,null,'b-rate-scale-bar');
rule(380,208.7,409,208.7,'#333',1.6,null,'b-time-scale-bar');
rect(291,25,65,6,'#d4ad35','none',0,'a-significance-bar');
rect(603,25,58,6,'#d4ad35','none',0,'b-significance-bar');

/* ---------- A & B scatter ---------- */
function scatter(x0,prefix,rx,ry,bx,by){
  const xs=linear(0,200,x0,x0+251),ys=linear(0,200,453,263);
  rx.forEach((v,i)=>dot(xs(v),ys(ry[i]),2.7,RED,prefix+'-wrong-point'));
  bx.forEach((v,i)=>dot(xs(v),ys(by[i]),2.7,BLUE,prefix+'-correct-point'));
  rule(xs(0),ys(0),xs(200),ys(200),'#000',1.9,'12.4 12.5',prefix+'-unity-line');
  rule(xs(0),ys(200),xs(0),ys(0),'#444',1.6,null,prefix+'-y-axis');
  rule(xs(0),ys(0),xs(200),ys(0),'#444',1.6,null,prefix+'-x-axis');
  rule(xs(0),ys(200),xs(0)+4,ys(200),'#444',1.4,null,prefix+'-y-axis-tick');
  rule(xs(200),ys(0),xs(200),ys(0)-4,'#444',1.4,null,prefix+'-x-axis-tick');
}
scatter(85,'a-scatter',scatterARedX,scatterARedY,scatterABlueX,scatterABlueY);
scatter(413,'b-scatter',scatterBRedX,scatterBRedY,scatterBBlueX,scatterBBlueY);

function barInset(axisX,firstBar,y0,y100,vals,errs,prefix){
  const yb=linear(0,100,y0,y100);
  const colors=[RED,'#595959',BLUE];
  rule(axisX,y100,axisX,y0,'#444',1.3,null,prefix+'-y-axis');
  rule(axisX-3,y100,axisX,y100,'#444',1.2,null,prefix+'-tick-100');
  rule(axisX-3,yb(50),axisX,yb(50),'#444',1.2,null,prefix+'-tick-50');
  rule(axisX-3,y0,axisX,y0,'#444',1.2,null,prefix+'-tick-0');
  vals.forEach((v,i)=>{
    const bx=firstBar+i*19.5;
    rect(bx,yb(v),14.5,y0-yb(v),colors[i],'none',0,prefix+'-bar-'+barCategories[i].toLowerCase());
    const cx=bx+7.25;
    rule(cx,yb(v-errs[i]),cx,yb(v+errs[i]),'#000',1.6,null,prefix+'-error-bar');
    rule(cx-4.5,yb(v-errs[i]),cx+4.5,yb(v-errs[i]),'#000',1.6,null,prefix+'-error-cap-low');
    rule(cx-4.5,yb(v+errs[i]),cx+4.5,yb(v+errs[i]),'#000',1.6,null,prefix+'-error-cap-high');
  });
}
barInset(279,284,433,354,barsA,barsAErr,'a-inset');
barInset(607,611,433,356,barsB,barsBErr,'b-inset');
rule(290,354.5,306,354.5,'#000',2.2,null,'a-inset-sig-bar-1');
rule(316,354.5,331,354.5,'#000',2.2,null,'a-inset-sig-bar-2');
rule(617,350,634,350,'#000',2.2,null,'b-inset-sig-bar-1');
rule(644,350,660,350,'#000',2.2,null,'b-inset-sig-bar-2');

/* ---------- C hand position ---------- */
function handPanel(movtOrigin,prefix,hB,vB,hr,hb,vr,vb){
  const xm=timeAxis(movtOrigin,.133);
  const yH=baseAxis(hB,9.167),yV=baseAxis(vB,9.167);
  band(timeCMovt,hr,handErrH,xm,yH,RF,prefix+'-h-wrong-band');
  band(timeCMovt,hb,handErrBlue,xm,yH,BF,prefix+'-h-correct-band');
  band(timeCMovt,vr,handErrV,xm,yV,RF,prefix+'-v-wrong-band');
  band(timeCMovt,vb,handErrBlue,xm,yV,BF,prefix+'-v-correct-band');
  curve(timeCMovt,hb,xm,yH,BLUE,3.2,prefix+'-h-correct-line');
  curve(timeCMovt,hr,xm,yH,RED,3.2,prefix+'-h-wrong-line');
  curve(timeCMovt,vb,xm,yV,BLUE,3.2,prefix+'-v-correct-line');
  curve(timeCMovt,vr,xm,yV,RED,3.2,prefix+'-v-wrong-line');
}
const xCSymOver=timeAxis(153,.133),xCSymLearn=timeAxis(471.5,.133);
handPanel(246,'c-over',548.67,579.33,cOverHRed,cOverHBlue,cOverVRed,cOverVBlue);
handPanel(564.7,'c-learn',549.33,578.33,cLearnHRed,cLearnHBlue,cLearnVRed,cLearnVBlue);
jagged(timeCSymOver,cOverSymH,xCSymOver,baseAxis(548.67,9.167),BLUE,4,'c-over-sym-h-correct');
jagged(timeCSymOver,cOverSymH,xCSymOver,baseAxis(548.67,9.167),RED,3,'c-over-sym-h-wrong');
jagged(timeCSymOver,cOverSymV,xCSymOver,baseAxis(579.33,9.167),BLUE,4,'c-over-sym-v-correct');
jagged(timeCSymOver,cOverSymV,xCSymOver,baseAxis(579.33,9.167),RED,3,'c-over-sym-v-wrong');
jagged(timeCSymLearn,cLearnSymHBlue,xCSymLearn,baseAxis(549.33,9.167),BLUE,3.6,'c-learn-sym-h-correct');
jagged(timeCSymLearn,cLearnSymVBlue,xCSymLearn,baseAxis(578.33,9.167),BLUE,3.2,'c-learn-sym-v-correct');
jagged(timeCSymLearn,cLearnSymVRed,xCSymLearn,baseAxis(578.33,9.167),RED,2.8,'c-learn-sym-v-wrong');
jagged(timeCSymLearn,cLearnSymVRed2,xCSymLearn,baseAxis(578.33,9.167),RED,2,'c-learn-sym-v-wrong-2');
const yCLow=baseAxis(683.33,9.167);
jagged(timeCLongOver,cLowOverHBlue,xCSymOver,yCLow,BLUE,3.6,'c-over-low-h-correct');
jagged(timeCLongOver,cLowOverVBlue,xCSymOver,yCLow,BLUE,3,'c-over-low-v-correct');
jagged(timeCLongOver,cLowOverVRed,xCSymOver,yCLow,RED,3.2,'c-over-low-v-wrong');
jagged(timeCLongLearn,cLowLearnHBlue,xCSymLearn,yCLow,BLUE,3,'c-learn-low-h-correct');
jagged(timeCLongLearn,cLowLearnHRed,xCSymLearn,yCLow,RED,3.4,'c-learn-low-h-wrong');
jagged(timeCLongLearn,cLowLearnVBlue,xCSymLearn,yCLow,BLUE,2.8,'c-learn-low-v-correct');
jagged(timeCLongLearn,cLowLearnVRed,xCSymLearn,yCLow,RED,3,'c-learn-low-v-wrong');
rule(73.5,622,73.5,640,'#222',1.6,null,'c-distance-scale-bar');
rule(73,640,100,640,'#222',1.6,null,'c-time-scale-bar');

/* ---------- D licking ---------- */
const yLick=linear(0,1,930,779);
function lickGroup(ts,origin,r,rE,b,bE,prefix){
  const xf=timeAxis(origin,.133);
  band(ts,r,rE,xf,yLick,RF,prefix+'-wrong-band');
  band(ts,b,bE,xf,yLick,BF,prefix+'-correct-band');
  curve(ts,b,xf,yLick,BLUE,2.8,prefix+'-correct-line');
  curve(ts,r,xf,yLick,RED,2.8,prefix+'-wrong-line');
}
lickGroup(timeDSymOver,153,dSymOverRed,dSymOverRedErr,dSymOverBlue,dSymOverBlueErr,'d-over-sym');
lickGroup(timeDMovtOver,246,dMovtOverRed,dMovtOverRedErr,dMovtOverBlue,dMovtOverBlueErr,'d-over-movt');
lickGroup(timeDSymLearn,471.5,dSymLearnRed,dSymLearnRedErr,dSymLearnBlue,dSymLearnBlueErr,'d-learn-sym');
lickGroup(timeDMovtLearn,565,dMovtLearnRed,dMovtLearnRedErr,dMovtLearnBlue,dMovtLearnBlueErr,'d-learn-movt');
rule(57,yLick(1),57,yLick(0),'#444',1.3,null,'d-y-axis');
rule(54,yLick(.5),57,yLick(.5),'#444',1.2,null,'d-y-tick-half');
rule(54,yLick(1),57,yLick(1),'#444',1.2,null,'d-y-tick-top');
rule(54,yLick(0),57,yLick(0),'#444',1.2,null,'d-y-tick-bottom');
rule(324,925,350,925,'#222',2,null,'d-time-scale-bar-left');
rule(649,925,676,925,'#222',2,null,'d-time-scale-bar-right');

/* ---------- E-G eye axes ---------- */
function eyeAxes(x0,x1,yTop,yBot,prefix){
  rule(x0,yTop,x0,yBot,'#444',1.5,null,prefix+'-y-axis');
  rule(x0,yTop,x0+3,yTop,'#444',1.3,null,prefix+'-y-tick-top');
  rule(x0,(yTop+yBot)/2,x0+3,(yTop+yBot)/2,'#444',1.3,null,prefix+'-y-tick-mid');
  rule(x0,yBot,x1,yBot,'#444',1.8,null,prefix+'-x-axis');
  rule((x0+x1)/2,yBot,(x0+x1)/2,yBot-3,'#444',1.3,null,prefix+'-x-tick-mid');
  rule(x1,yBot,x1,yBot-3,'#444',1.3,null,prefix+'-x-tick-end');
}
function boxes(x,y,w,h,ix,iy,iw,ih,prefix){
  rect(x,y,w,h,'none','#333',2.4,prefix+'-outer-box');
  rect(ix,iy,iw,ih,'none','#111',1.4,prefix+'-inner-box');
}
function trajectory(cx,cy,xs,ys,color,w,name){
  const bx=v=>cx+v*3.8,by=v=>cy-v*3.8;
  const el=pathEl(polyline(xs.map((v,i)=>[bx(v),by(ys[i])])),color,w,'none',null,name);
  el.setAttribute('stroke-linecap','round');
}
const xE=linear(-200,200,820,1035),xF=linear(-200,200,1340.5,1555);
const yE1=baseAxis(128.7,17.73),yE2=baseAxis(356,17.6);
eyeAxes(820,1035,40,217.3,'e1');
eyeAxes(820,1035,268,444,'e2');
eyeAxes(1340.5,1555,40,217.3,'f1');
eyeAxes(1340.5,1555,268,444,'f2');
jagged(eyeTime21,e1V,xE,yE1,TEAL,2,'e1-v-trace');
jagged(eyeTime21,e1H,xE,yE1,BLUE,2,'e1-h-trace');
jagged(eyeTime21,e2V,xE,yE2,TEAL,2,'e2-v-trace');
jagged(eyeTime21,e2H,xE,yE2,BLUE,2,'e2-h-trace');
curve(eyeTime21,f1V,xF,yE1,MAG,1.9,'f1-v-trace');
curve(eyeTime21,f1H,xF,yE1,RED,2.2,'f1-h-trace');
curve(eyeTime21,f2V,xF,yE2,MAG,1.9,'f2-v-trace');
curve(eyeTime21,f2H,xF,yE2,RED,2.2,'f2-h-trace');
boxes(1057,40,216,178,1148,113,38,39,'e1');
boxes(1057.5,268,216.5,176,1147,339,38,38,'e2');
boxes(1577,40,216,178,1669,113,38,38,'f1');
boxes(1575,268,217,176,1669,341,38,38,'f2');
trajectory(1167,132.5,trajE1X,trajE1Y,BLUE,4.5,'e1-eye-trajectory');
trajectory(1166,358,trajE2X,trajE2Y,BLUE,4,'e2-eye-trajectory');
trajectory(1688,132,trajF1X,trajF1Y,RED,5,'f1-eye-trajectory');
trajectory(1688,360,trajF2X,trajF2Y,RED,3.6,'f2-eye-trajectory');

const xG1=linear(-200,200,820,1037),xG2=linear(-200,200,1338.5,1556),yG=baseAxis(611.7,17.47);
gOverBlue.forEach(s=>jagged(eyeTime13,s,xG1,yG,BLUE,2,'g1-correct-h-trace'));
gOverDenseBlue.forEach(s=>jagged(eyeTime13,s,xG1,yG,BLUE,3.2,'g1-correct-h-dense-trace'));
gOverTeal.forEach(s=>jagged(eyeTime13,s,xG1,yG,TEAL,2,'g1-correct-v-trace'));
gOverDenseTeal.forEach(s=>jagged(eyeTime13,s,xG1,yG,TEAL,3.2,'g1-correct-v-dense-trace'));
gOverMagenta.forEach(s=>jagged(eyeTime13,s,xG1,yG,MAG,2,'g1-wrong-v-trace'));
gOverDenseMagenta.forEach(s=>jagged(eyeTime13,s,xG1,yG,MAG,2.8,'g1-wrong-v-dense-trace'));
gOverRed.forEach(s=>jagged(eyeTime13,s,xG1,yG,RED,2.2,'g1-wrong-h-trace'));
gLearnBlue.forEach(s=>jagged(eyeTime13,s,xG2,yG,BLUE,2,'g2-correct-h-trace'));
gLearnTeal.forEach(s=>jagged(eyeTime13,s,xG2,yG,TEAL,2,'g2-correct-v-trace'));
gLearnMagenta.forEach(s=>jagged(eyeTime13,s,xG2,yG,MAG,2.2,'g2-wrong-v-trace'));
gLearnRedThin.forEach(s=>curve(eyeTime13,s,xG2,yG,RED,2,'g2-wrong-h-trace'));
gLearnRedThick.forEach(s=>jagged(eyeTime13,s,xG2,yG,RED,3.6,'g2-wrong-h-dense-trace'));
gLearnDenseMagenta.forEach(s=>jagged(eyeTime13,s,xG2,yG,MAG,1.6,'g2-wrong-v-dense-trace'));
eyeAxes(820,1037,524,699,'g1');
eyeAxes(1338.5,1556,524,699,'g2');
boxes(1057,521,216,176,1147,592,38,38,'g1');
boxes(1575,521,217,176,1665,592,38,38,'g2');
trajectory(1166.5,611,trajG1BlueX,trajG1BlueY,BLUE,3.6,'g1-correct-trajectory');
trajectory(1166.5,611,trajG1RedX,trajG1RedY,RED,3.2,'g1-wrong-trajectory');
trajectory(1683.5,610.7,trajG2BlueX,trajG2BlueY,BLUE,3.4,'g2-correct-trajectory');
trajectory(1683.5,610.7,trajG2RedX,trajG2RedY,RED,4,'g2-wrong-trajectory');

/* ---------- H spread ---------- */
function spreadGroup(ts,origin,zero,meanR,rE,bE,prefix){
  const xf=timeAxis(origin,.215),yf=baseAxis(zero,1.5);
  bandStraight(ts,meanR,rE,xf,yf,RF,prefix+'-wrong-band');
  bandStraight(ts,hMeanBlue,bE,xf,yf,BF,prefix+'-correct-band');
  curve(ts,hMeanBlue,xf,yf,BLUE,3,prefix+'-correct-line');
  curve(ts,meanR,xf,yf,RED,3.4,prefix+'-wrong-line');
}
spreadGroup(timeHSym,953.5,788,hMeanRed,hOverHSymRed,hOverHSymBlue,'h-over-h-sym');
spreadGroup(timeHMovt,1099.5,788,hMeanRedMovt,hOverHMovtRed,hOverHMovtBlue,'h-over-h-movt');
spreadGroup(timeHSym,953.5,881.7,hMeanRed,hOverVSymRed,hOverVSymBlue,'h-over-v-sym');
spreadGroup(timeHMovt,1099.5,881.7,hMeanRed,hOverVMovtRed,hOverVMovtBlue,'h-over-v-movt');
spreadGroup(timeHSym,1475,788,hMeanRed,hLearnHSymRed,hLearnHSymBlue,'h-learn-h-sym');
spreadGroup(timeHMovt,1619.5,788,hMeanRedMovt,hLearnHMovtRed,hLearnHMovtBlue,'h-learn-h-movt');
spreadGroup(timeHSym,1475,881.7,hMeanRed,hLearnVSymRed,hLearnVSymBlue,'h-learn-v-sym');
spreadGroup(timeHMovt,1619.5,881.7,hMeanRed,hLearnVMovtRed,hLearnVMovtBlue,'h-learn-v-movt');
function spreadAxis(x,y0,y1,prefix){
  rule(x,y0,x,y1,'#444',1.4,null,prefix+'-y-axis');
  rule(x,y0,x+3,y0,'#444',1.2,null,prefix+'-tick-top');
  rule(x,(y0+y1)/2,x+3,(y0+y1)/2,'#444',1.2,null,prefix+'-tick-mid');
  rule(x,y1,x+3,y1,'#444',1.2,null,prefix+'-tick-bottom');
}
spreadAxis(820,758,818,'h1');
spreadAxis(820,852,912,'h2');
spreadAxis(1340,758,818,'h3');
spreadAxis(1340,852,912,'h4');
rule(825,924,868,924,'#333',3,null,'h-time-scale-bar-left');
rule(1746,924,1789,924,'#333',3,null,'h-time-scale-bar-right');
</script>
</body>
</html>
